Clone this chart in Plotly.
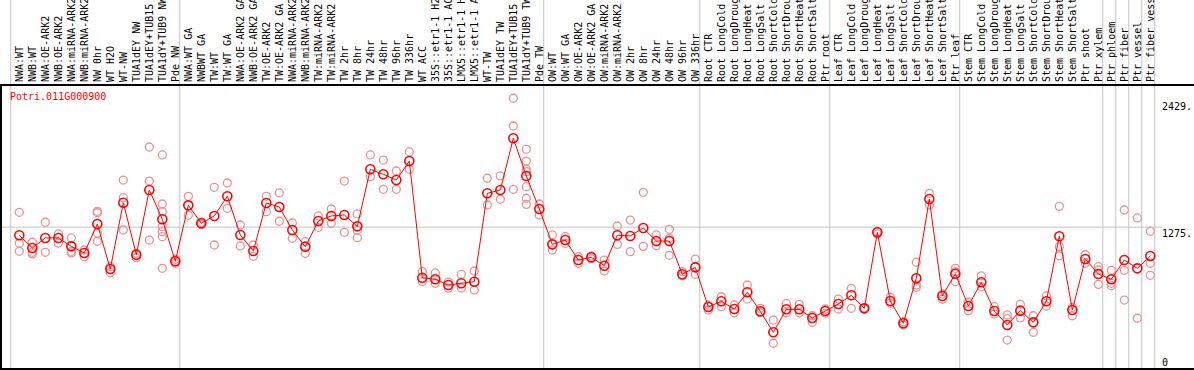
import plotly.graph_objects as go

gene = "Potri.011G000900"

group_labels = [
    ["NWA:WT", "NWB:WT", "NWA:OE-ARK2", "NWB:OE-ARK2", "NWA:miRNA-ARK2", "NWB:miRNA-ARK2",
     "NW 0hr", "WT H2O", "WT-NW", "TUA1dEY NW", "TUA1dEY+TUB15", "TUA1dY+TUB9 NW", "Pde NW"],
    ["NWA:WT GA", "NWBWT GA", "TW:WT", "TW:WT GA", "NWA:OE-ARK2 GA", "NWB:OE-ARK2 GA",
     "TW:OE-ARK2", "TW:OE-ARK2 GA", "NWA:miRNA-ARK2 GA", "NWB:miRNA-ARK2 GA", "TW:miRNA-ARK2",
     "TW:miRNA-ARK2 GA", "TW 2hr", "TW 8hr", "TW 24hr", "TW 48hr", "TW 96hr", "TW 336hr",
     "WT ACC", "35S::etr1-1 H2O", "35S::etr1-1 ACC", "LMX5::etr1-1 H2O", "LMX5::etr1-1 ACC",
     "WT-TW", "TUA1dEY TW", "TUA1dEY+TUB15", "TUA1dY+TUB9 TW", "Pde TW"],
    ["OW:WT", "OW:WT GA", "OW:OE-ARK2", "OW:OE-ARK2 GA", "OW:miRNA-ARK2", "OW:miRNA-ARK2 GA",
     "OW 2hr", "OW 8hr", "OW 24hr", "OW 48hr", "OW 96hr", "OW 336hr"],
    ["Root CTR", "Root LongCold", "Root LongDrought", "Root LongHeat", "Root LongSalt",
     "Root ShortCold", "Root ShortDrought", "Root ShortHeat", "Root ShortSalt", "Ptr root"],
    ["Leaf CTR", "Leaf LongCold", "Leaf LongDrought", "Leaf LongHeat", "Leaf LongSalt",
     "Leaf ShortCold", "Leaf ShortDrought", "Leaf ShortHeat", "Leaf ShortSalt", "Ptr leaf"],
    ["Stem CTR", "Stem LongCold", "Stem LongDrought", "Stem LongHeat", "Stem LongSalt",
     "Stem ShortCold", "Stem ShortDrought", "Stem ShortHeat", "Stem ShortSalt", "Ptr shoot",
     "Ptr xylem"],
    ["Ptr phloem"],
    ["Ptr fiber"],
    ["Ptr vessel"],
    ["Ptr fiber vessel"],
]

means = [
    1201, 1086, 1177, 1177, 1101, 1041, 1303, 896, 1496, 1025, 1611, 1346, 966,
    1472, 1310, 1376, 1554, 1204, 1059, 1493, 1457, 1249, 1098, 1330, 1376, 1385, 1282,
    1798, 1753, 1701, 1873, 817, 803, 751, 767, 781, 1581, 1611, 2079, 1738, 1439,
    1119, 1158, 977, 1002, 926, 1201, 1195, 1267, 1149, 1149, 848, 911,
    552, 604, 534, 685, 513, 323, 531, 531, 453, 516,
    579, 658, 540, 1228, 606, 405, 812, 1529, 652, 853,
    561, 776, 516, 389, 519, 413, 604, 1192, 525, 986, 851,
    803, 977, 902, 1014,
]

replicates = [
    [1409, 1129, 1056], [1138, 1047, 1032], [1319, 1047], [1213, 1131], [1177, 1056, 1041],
    [1068, 1007], [1418, 1405, 1219, 1147], [917, 862], [1701, 1541, 1249], [1038, 998],
    [2000, 1692, 1158], [1928, 1484, 1415, 1279, 1234, 1188, 902], [984, 948],
    [1554, 1382], [1300, 1320], [1635, 1113], [1674, 1445], [1294, 1104], [1113, 1011],
    [1554, 1415], [1584, 1328], [1312, 1174], [1143, 1038], [1376, 1273], [1439, 1310],
    [1692, 1228], [1394, 1249, 1179], [1928, 1731], [1882, 1617], [1783, 1617], [1955, 1798],
    [872, 781], [860, 767], [778, 721], [848, 724], [878, 706], [1717, 1475], [1738, 1527],
    [2441, 2190, 1617], [1979, 1873, 1798, 1777, 1641, 1536, 1481], [1484, 1385],
    [1204, 1068], [1188, 1129], [1007, 948], [1014, 990], [977, 878], [1285, 1119],
    [1339, 1053], [1590, 1101], [1204, 1107], [1255, 1174, 1020], [872, 833], [986, 848],
    [570, 525], [645, 555], [570, 500], [751, 624], [540, 500], [434, 224], [582, 500],
    [576, 500], [473, 414], [495, 534],
    [624, 534], [721, 540], [535, 545], [1234, 1213], [640, 586], [419, 389],
    [957, 751, 730], [1581, 1475], [670, 622], [902, 872, 781],
    [595, 519], [833, 736], [555, 489], [480, 446, 253], [576, 453], [473, 323],
    [652, 561], [1463, 1098, 1016], [549, 473], [1025, 948], [917, 887, 757],
    [884, 767, 745], [1430, 884, 615], [1358, 450], [1237, 948, 839],
]

y_tickvals = [0, 1275, 2429]
y_ticktext = ["0", "1275.", "2429."]
grid_value = 1275

labels = [lab for g in group_labels for lab in g]
xs = list(range(len(labels)))

rep_x, rep_y = [], []
for i, reps in enumerate(replicates):
    for v in reps:
        rep_x.append(i)
        rep_y.append(v)

FONT = "DejaVu Sans Mono"
GRAY = "#c4c4c4"

fig = go.Figure()
fig.add_trace(go.Scatter(
    x=rep_x, y=rep_y, mode="markers",
    marker=dict(symbol="circle-open", size=8, color="rgb(234,146,146)", line=dict(width=1.3)),
    hoverinfo="skip", showlegend=False,
))
fig.add_trace(go.Scatter(
    x=xs, y=means, mode="lines+markers",
    line=dict(color="#ff0000", width=1),
    marker=dict(symbol="circle-open", size=9, color="#ff0000", line=dict(width=1.6)),
    showlegend=False,
))

shapes = []
# group separators
b = 0
bounds = [0]
for g in group_labels:
    b += len(g)
    bounds.append(b)
for k in bounds:
    shapes.append(dict(type="line", xref="x", yref="paper", x0=k - 0.66, x1=k - 0.66,
                       y0=0, y1=1.31, line=dict(color=GRAY, width=1), layer="below"))
# horizontal reference line
shapes.append(dict(type="line", xref="paper", yref="y", x0=0, x1=0.973,
                   y0=grid_value, y1=grid_value, line=dict(color=GRAY, width=1), layer="below"))

annotations = [dict(text=gene, xref="paper", yref="paper", x=0.006, y=0.985,
                    xanchor="left", yanchor="top", showarrow=False, borderpad=0,
                    font=dict(family=FONT, size=10, color="#ff0000"))]
for v, t in zip(y_tickvals, y_ticktext):
    annotations.append(dict(text=t, xref="paper", yref="y", x=0.9723, y=v,
                            xanchor="left", yanchor="bottom" if v == 0 else "top",
                            yshift=-1 if v == 0 else 0, borderpad=0,
                            showarrow=False, font=dict(family=FONT, size=10, color="black")))

fig.update_layout(
    width=1194, height=370,
    margin=dict(l=2, r=0, t=86, b=2, pad=0, autoexpand=False),
    paper_bgcolor="white", plot_bgcolor="white",
    shapes=shapes, annotations=annotations,
    xaxis=dict(range=[-1.331, 90.36], side="top", tickmode="array", tickvals=xs,
               ticktext=labels, tickangle=-90, ticks="", automargin=False,
               tickfont=dict(family=FONT, size=10, color="black"),
               showgrid=False, zeroline=False, showline=True, linecolor="black",
               linewidth=2, mirror=True),
    yaxis=dict(range=[0, 2552], showticklabels=False, ticks="", showgrid=False,
               automargin=False,
               zeroline=False, showline=True, linecolor="black", linewidth=2),
    hovermode=False,
)

fig.write_html(
    "out.html",
    config={"displayModeBar": False, "staticPlot": True},
    post_script="document.body.style.margin='0';document.body.style.padding='0';"
                "document.body.style.overflow='hidden';",
)
